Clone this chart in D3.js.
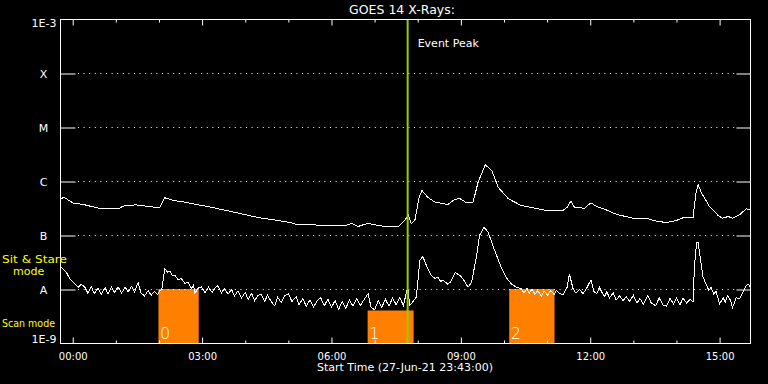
<!DOCTYPE html>
<html><head><meta charset="utf-8">
<script src="https://cdn.jsdelivr.net/npm/d3@7"></script>
<style>
html,body{margin:0;padding:0;background:#000;}
svg{display:block;background:#000;}
text{font-family:"DejaVu Sans",sans-serif;}
</style></head><body>
<svg id="chart" width="768" height="384"></svg>
<script>
// ---------- data ----------
const chartTitle = "GOES 14 X-Rays:";
const xTitle = "Start Time (27-Jun-21 23:43:00)";
const startTime = "23:43";
const endTime = "15:43";
const yTickValues = [1e-9, 1e-8, 1e-7, 1e-6, 1e-5, 1e-4, 1e-3];
const yTickLabels = ["1E-9", "A", "B", "C", "M", "X", "1E-3"];
const gridValues = [1e-8, 1e-7, 1e-6, 1e-5, 1e-4];

// 1-8 Angstrom channel (upper curve): [time, flux W/m2]
const longChannel = [
["23:43",4.9e-7],["23:49",5.0e-7],["00:01",3.96e-7],["00:15",3.75e-7],["00:40",3.1e-7],["01:03",3.1e-7],
["01:10",3.5e-7],["01:28",3.7e-7],["01:42",3.5e-7],["02:01",3.26e-7],["02:08",5.0e-7],["02:20",4.45e-7],
["02:34",4.2e-7],["02:45",3.9e-7],["03:08",3.44e-7],["03:32",2.94e-7],["03:55",2.52e-7],["04:18",2.15e-7],
["04:46",1.9e-7],["05:04",1.72e-7],["05:11",1.6e-7],["05:35",1.58e-7],["05:53",1.51e-7],["06:19",1.53e-7],
["06:28",1.67e-7],["06:37",1.47e-7],["06:51",1.69e-7],["07:00",1.58e-7],["07:12",1.49e-7],["07:33",1.47e-7],
["07:40",1.79e-7],["07:47",2.35e-7],["07:51",1.65e-7],["07:56",1.9e-7],["08:02",5.1e-7],["08:06",6.8e-7],
["08:14",5.1e-7],["08:24",4.14e-7],["08:42",3.75e-7],["08:52",4.7e-7],["08:59",4.8e-7],["09:08",4.03e-7],
["09:17",4.14e-7],["09:24",9.7e-7],["09:34",2.04e-6],["09:43",1.6e-6],["09:52",7.8e-7],["10:06",4.8e-7],
["10:24",3.59e-7],["10:43",3.2e-7],["10:59",2.9e-7],["11:22",2.9e-7],["11:28",3.34e-7],["11:33",4.3e-7],
["11:38",3.34e-7],["11:52",3.2e-7],["12:01",4.03e-7],["12:09",3.44e-7],["12:22",2.99e-7],["12:36",2.48e-7],
["12:59",2.09e-7],["13:18",2.09e-7],["13:32",1.84e-7],["13:46",1.74e-7],["14:00",1.9e-7],["14:11",2.18e-7],
["14:23",2.13e-7],["14:27",5.9e-7],["14:30",8.8e-7],["14:35",6.1e-7],["14:46",3.44e-7],["14:58",2.35e-7],
["15:04",2.09e-7],["15:12",2.25e-7],["15:18",2.09e-7],["15:28",2.43e-7],["15:37",3.12e-7],["15:43",2.99e-7]
];

// 0.5-4 Angstrom channel (lower curve): [time, flux W/m2]
const shortChannel = [
["23:44",2.59e-8],["23:51",2.09e-8],["23:56",1.58e-8],["00:03",1.28e-8],["00:08",1.1e-8],["00:12",1.25e-8],
["00:17",1.1e-8],["00:21",8.6e-9],["00:26",1.12e-8],["00:30",8.4e-9],["00:35",1.05e-8],["00:40",8.2e-9],
["00:45",1.08e-8],["00:49",8.4e-9],["00:54",1.1e-8],["00:58",8.8e-9],["01:03",1.12e-8],["01:08",8.6e-9],
["01:13",1.1e-8],["01:17",9.0e-9],["01:22",1.15e-8],["01:26",9.0e-9],["01:31",1.35e-8],["01:35",8.6e-9],
["01:40",7.6e-9],["01:45",9.6e-9],["01:49",7.8e-9],["01:54",9.2e-9],["01:58",8.0e-9],["02:01",9.6e-9],
["02:04",1.0e-8],["02:08",2.42e-8],["02:12",2.1e-8],["02:15",2.2e-8],["02:19",1.8e-8],["02:22",1.85e-8],
["02:27",1.5e-8],["02:31",1.6e-8],["02:36",1.3e-8],["02:41",1.35e-8],["02:45",1.05e-8],["02:48",1.2e-8],
["02:50",8.4e-9],["02:54",1.05e-8],["02:59",1.12e-8],["03:04",8.8e-9],["03:09",1.1e-8],["03:14",8.8e-9],
["03:18",1.08e-8],["03:22",1.18e-8],["03:27",8.6e-9],["03:31",1.05e-8],["03:36",8.2e-9],["03:41",1.0e-8],
["03:45",7.6e-9],["03:50",9.4e-9],["03:55",7.0e-9],["04:00",8.8e-9],["04:04",6.6e-9],["04:09",8.4e-9],
["04:13",6.2e-9],["04:18",7.8e-9],["04:22",8.2e-9],["04:27",6.0e-9],["04:31",7.8e-9],["04:36",6.0e-9],
["04:41",5.0e-9],["04:45",7.2e-9],["04:50",5.8e-9],["04:55",7.6e-9],["05:00",8.4e-9],["05:05",6.0e-9],
["05:11",7.4e-9],["05:15",5.2e-9],["05:20",6.8e-9],["05:25",4.9e-9],["05:30",6.4e-9],["05:35",4.7e-9],
["05:40",6.2e-9],["05:45",7.0e-9],["05:50",5.0e-9],["05:55",6.6e-9],["06:00",4.7e-9],["06:05",6.2e-9],
["06:10",4.3e-9],["06:15",6.0e-9],["06:20",4.5e-9],["06:25",6.4e-9],["06:30",4.9e-9],["06:35",6.8e-9],
["06:40",5.0e-9],["06:45",6.4e-9],["06:51",8.4e-9],["06:55",4.7e-9],["07:00",4.2e-9],["07:05",6.2e-9],
["07:10",4.7e-9],["07:15",6.6e-9],["07:20",4.9e-9],["07:25",7.0e-9],["07:30",5.2e-9],["07:35",7.2e-9],
["07:40",5.0e-9],["07:46",1.1e-8],["07:49",5.1e-9],["07:54",6.1e-9],["07:58",7.2e-9],["08:03",3.44e-8],
["08:07",4.1e-8],["08:12",2.8e-8],["08:19",1.82e-8],["08:24",1.6e-8],["08:28",1.7e-8],["08:32",1.4e-8],
["08:35",1.5e-8],["08:42",1.25e-8],["08:46",1.4e-8],["08:52",2.05e-8],["08:59",1.82e-8],["09:06",1.37e-8],
["09:10",1.1e-8],["09:15",1.37e-8],["09:22",4.26e-8],["09:26",1.0e-7],["09:32",1.43e-7],["09:38",1.15e-7],
["09:47",5.3e-8],["09:57",2.42e-8],["10:04",1.6e-8],["10:10",1.28e-8],["10:17",1.1e-8],["10:24",1.03e-8],
["10:28",8.6e-9],["10:32",1.05e-8],["10:35",8.4e-9],["10:39",1.02e-8],["10:43",8.2e-9],["10:47",9.6e-9],
["10:52",7.6e-9],["10:56",9.4e-9],["11:01",7.8e-9],["11:05",9.6e-9],["11:10",8.0e-9],["11:13",9.6e-9],
["11:17",8.4e-9],["11:22",8.0e-9],["11:28",1.1e-8],["11:31",1.95e-8],["11:36",1.05e-8],["11:40",8.6e-9],
["11:45",1.0e-8],["11:50",8.4e-9],["11:55",1.05e-8],["12:01",1.51e-8],["12:05",9.2e-9],["12:09",8.4e-9],
["12:13",1.1e-8],["12:16",9.0e-9],["12:20",7.4e-9],["12:23",9.0e-9],["12:27",7.0e-9],["12:32",8.6e-9],
["12:36",6.4e-9],["12:41",7.6e-9],["12:46",6.2e-9],["12:50",7.4e-9],["12:55",6.0e-9],["13:00",7.8e-9],
["13:05",5.6e-9],["13:09",6.8e-9],["13:14",5.4e-9],["13:20",7.8e-9],["13:25",5.6e-9],["13:31",5.0e-9],
["13:36",7.0e-9],["13:41",5.2e-9],["13:46",4.9e-9],["13:51",6.8e-9],["13:56",5.4e-9],["14:00",7.0e-9],
["14:05",5.2e-9],["14:09",7.0e-9],["14:14",5.6e-9],["14:19",6.6e-9],["14:23",5.8e-9],["14:25",2.6e-8],
["14:28",7.5e-8],["14:30",7.5e-8],["14:33",4.0e-8],["14:37",1.69e-8],["14:42",1.19e-8],["14:45",9.6e-9],
["14:48",1.1e-8],["14:52",8.2e-9],["14:55",9.4e-9],["15:00",5.4e-9],["15:05",7.0e-9],["15:08",5.8e-9],
["15:11",7.6e-9],["15:15",6.4e-9],["15:18",4.6e-9],["15:23",7.0e-9],["15:28",6.8e-9],["15:32",8.6e-9],
["15:37",1.2e-8],["15:40",1.25e-8],["15:43",1.1e-8]
];

// observing modes (orange blocks)
const modeStart = ["02:00", "06:51", "10:08"];
const modeEnd   = ["02:56", "07:55", "11:11"];
const modeLevel = [1e-8, 4e-9, 1e-8];
const modeNames = ["0", "1", "2"];
const modeAxisLabels = ["Sit & Stare", "mode", "Scan mode"];
const eventPeakTime = "07:46";
const eventPeakLabel = "Event Peak";

// ---------- drawing ----------
function parseT(s) {
  const [h, m] = s.split(":").map(Number);
  return new Date(2021, 5, h === 23 ? 27 : 28, h, m);
}

const svg = d3.select("#chart");
const L = 60.5, R = 750.5, T = 19.5, B = 343.5;

const x = d3.scaleTime().domain([parseT(startTime), parseT(endTime)]).range([L, R]);
const y = d3.scaleLog().domain([1e-9, 1e-3]).range([B, T]);

// mode bars
svg.append("g").selectAll("rect").data(modeStart).join("rect")
  .attr("x", (d, i) => x(parseT(d)) - 0.5)
  .attr("width", (d, i) => x(parseT(modeEnd[i])) - x(parseT(d)))
  .attr("y", (d, i) => y(modeLevel[i]) - 0.5)
  .attr("height", (d, i) => B - y(modeLevel[i]))
  .attr("fill", "#ff8000");

// mode numbers
svg.append("g").selectAll("text").data(modeNames).join("text")
  .attr("x", (d, i) => x(parseT(modeStart[i])) + 1)
  .attr("y", 339)
  .attr("fill", "#ffffff")
  .attr("font-family", "Roboto, 'DejaVu Sans', sans-serif")
  .attr("font-weight", 300)
  .attr("font-size", 16)
  .text(d => d);

// dotted grid
svg.append("g").selectAll("line").data(gridValues).join("line")
  .attr("x1", 78).attr("x2", 736)
  .attr("y1", d => y(d)).attr("y2", d => y(d))
  .attr("stroke", "#fff").attr("stroke-width", 1)
  .attr("stroke-dasharray", "1,4.6");

// curves
const line = d3.line().x(d => x(parseT(d[0]))).y(d => y(d[1]));
[longChannel, shortChannel].forEach(series => {
  svg.append("path").datum(series)
    .attr("d", line)
    .attr("fill", "none")
    .attr("stroke", "#fff")
    .attr("stroke-width", 1)
    .attr("shape-rendering", "crispEdges");
});

// event peak line
const xe = x(parseT(eventPeakTime));
svg.append("line")
  .attr("x1", xe).attr("x2", xe).attr("y1", T).attr("y2", B)
  .attr("stroke", "#99cc00").attr("stroke-width", 2);
svg.append("text").attr("x", xe + 10).attr("y", 47)
  .attr("fill", "#fff").attr("font-size", 11).text(eventPeakLabel);

// frame
svg.append("rect").attr("x", L).attr("y", T).attr("width", R - L).attr("height", B - T)
  .attr("fill", "none").attr("stroke", "#fff").attr("stroke-width", 1);

// axes
const hours = d3.timeHour.every(1).range(x.domain()[0], x.domain()[1]);
const majorHours = hours.filter(d => d.getHours() % 3 === 0);
const minorHours = hours.filter(d => d.getHours() % 3 !== 0);

function styleAxis(g) {
  g.select(".domain").remove();
  g.selectAll(".tick line").attr("stroke", "#fff");
  g.selectAll(".tick text").attr("fill", "#fff").attr("font-family", "DejaVu Sans, sans-serif");
}

svg.append("g").attr("transform", `translate(0,${B})`)
  .call(d3.axisBottom(x).tickValues(majorHours).tickFormat(d3.timeFormat("%H:%M")).tickSize(-6).tickPadding(9))
  .call(styleAxis)
  .call(g => g.selectAll(".tick text").attr("font-size", 10));
svg.append("g").attr("transform", `translate(0,${B})`)
  .call(d3.axisBottom(x).tickValues(minorHours).tickFormat("").tickSize(-3))
  .call(styleAxis);
svg.append("g").attr("transform", `translate(0,${T})`)
  .call(d3.axisTop(x).tickValues(majorHours).tickFormat("").tickSize(-6))
  .call(styleAxis);
svg.append("g").attr("transform", `translate(0,${T})`)
  .call(d3.axisTop(x).tickValues(minorHours).tickFormat("").tickSize(-3))
  .call(styleAxis);

const yInner = yTickValues.slice(1, -1);
svg.append("g").attr("transform", `translate(${L},0)`)
  .call(d3.axisLeft(y).tickValues(yInner).tickFormat("").tickSize(-15))
  .call(styleAxis);
svg.append("g").attr("transform", `translate(${R},0)`)
  .call(d3.axisRight(y).tickValues(yInner).tickFormat("").tickSize(-14))
  .call(styleAxis);

// y labels
svg.append("g").selectAll("text").data(yTickValues).join("text")
  .attr("x", (d, i) => (i === 0 || i === yTickValues.length - 1) ? 56.5 : 43.5)
  .attr("y", (d, i) => i === 0 ? 343 : (i === yTickValues.length - 1 ? 27 : y(d) + 4))
  .attr("text-anchor", (d, i) => (i === 0 || i === yTickValues.length - 1) ? "end" : "middle")
  .attr("fill", "#fff").attr("font-size", 11)
  .text((d, i) => yTickLabels[i]);

// mode labels (yellow)
svg.append("text").attr("x", 2).attr("y", 263).attr("fill", "#ffff00").attr("font-size", 11)
  .attr("textLength", 65).attr("lengthAdjust", "spacingAndGlyphs").text(modeAxisLabels[0]);
svg.append("text").attr("x", 13).attr("y", 275).attr("fill", "#ffff00").attr("font-size", 11)
  .text(modeAxisLabels[1]);
svg.append("text").attr("x", 2).attr("y", 327).attr("fill", "#ffff00").attr("font-size", 11)
  .attr("textLength", 53).attr("lengthAdjust", "spacingAndGlyphs").text(modeAxisLabels[2]);

// titles
svg.append("text").attr("x", 402).attr("y", 14).attr("text-anchor", "middle")
  .attr("fill", "#fff").attr("font-size", 12.5).text(chartTitle);
svg.append("text").attr("x", 405).attr("y", 371).attr("text-anchor", "middle")
  .attr("fill", "#fff").attr("font-size", 11).text(xTitle);
</script>
</body></html>
